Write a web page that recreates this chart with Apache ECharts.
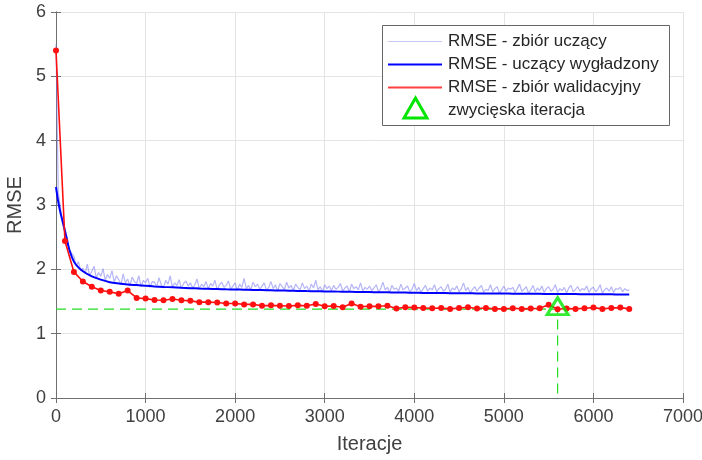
<!DOCTYPE html>
<html>
<head>
<meta charset="utf-8">
<script src="https://cdn.jsdelivr.net/npm/echarts@6/dist/echarts.min.js"></script>
<style>
  html, body { margin: 0; padding: 0; background: #fff; }
  #chart { width: 702px; height: 460px; }
</style>
</head>
<body>
<div id="chart"></div>
<script>
// iteration step of the raw training curve
var trainStep = 25;
var trainRaw = [
  5.50, 3.20, 2.95, 2.70, 2.55, 2.50, 2.30, 2.25, 2.20, 2.05, 2.12, 1.98,
  2.02, 1.93, 2.08, 1.90, 1.97, 2.05, 1.86, 1.95, 1.89, 2.01, 1.83, 1.92, 1.86, 1.98, 1.80, 1.90,
  1.84, 1.76, 1.93, 1.79, 1.85, 1.74, 1.88, 1.81, 1.78, 1.90, 1.73, 1.83, 1.79, 1.86, 1.72, 1.81,
  1.80, 1.73, 1.87, 1.76, 1.71, 1.83, 1.77, 1.90, 1.72, 1.79, 1.75, 1.84, 1.70, 1.78, 1.82, 1.74,
  1.79, 1.71, 1.76, 1.85, 1.69, 1.77, 1.73, 1.81, 1.70, 1.78, 1.74, 1.83, 1.68, 1.76, 1.80, 1.72,
  1.75, 1.82, 1.69, 1.74, 1.79, 1.67, 1.77, 1.72, 1.86, 1.70, 1.75, 1.68, 1.80, 1.73, 1.77, 1.69,
  1.74, 1.79, 1.67, 1.72, 1.81, 1.70, 1.76, 1.66, 1.78, 1.73, 1.69, 1.80, 1.71, 1.75, 1.67, 1.77,
  1.72, 1.68, 1.79, 1.70, 1.74, 1.66, 1.77, 1.71, 1.83, 1.68, 1.73, 1.65, 1.76, 1.70, 1.74, 1.67,
  1.75, 1.69, 1.72, 1.78, 1.66, 1.71, 1.74, 1.65, 1.77, 1.70, 1.73, 1.68, 1.79, 1.66, 1.72, 1.69,
  1.74, 1.67, 1.71, 1.76, 1.65, 1.70, 1.80, 1.68, 1.72, 1.64, 1.75, 1.69, 1.71, 1.66, 1.77, 1.68,
  1.71, 1.74, 1.65, 1.69, 1.78, 1.67, 1.72, 1.64, 1.70, 1.75, 1.66, 1.71, 1.68, 1.76, 1.65, 1.70,
  1.73, 1.66, 1.69, 1.77, 1.64, 1.71, 1.68, 1.74, 1.65, 1.70, 1.79, 1.67, 1.72, 1.63, 1.69, 1.73,
  1.66, 1.71, 1.75, 1.64, 1.69, 1.67, 1.76, 1.65, 1.70, 1.73, 1.63, 1.68, 1.74, 1.66, 1.71, 1.69,
  1.72, 1.64, 1.70, 1.77, 1.66, 1.69, 1.73, 1.63, 1.68, 1.75, 1.65, 1.71, 1.67, 1.74, 1.64, 1.70,
  1.73, 1.66, 1.69, 1.76, 1.64, 1.70, 1.67, 1.72, 1.63, 1.71, 1.75, 1.65, 1.69, 1.73, 1.66, 1.70,
  1.68, 1.74, 1.64, 1.70, 1.72, 1.65, 1.69, 1.76, 1.63, 1.68, 1.71, 1.66, 1.73, 1.64, 1.70, 1.69,
  1.72, 1.65, 1.70, 1.67, 1.68
];

var smoothIter = [0, 25, 50, 75, 100, 150, 200, 250, 300,
  400, 500, 600, 700, 800, 900, 1000, 1100, 1200, 1300, 1400, 1500, 1600, 1700, 1800, 1900,
  2000, 2100, 2200, 2300, 2400, 2500, 2600, 2700, 2800, 2900, 3000, 3100, 3200, 3300, 3400,
  3500, 3600, 3700, 3800, 3900, 4000, 4100, 4200, 4300, 4400, 4500, 4600, 4700, 4800, 4900,
  5000, 5100, 5200, 5300, 5400, 5500, 5600, 5700, 5800, 5900, 6000, 6100, 6200, 6300, 6400];
var smoothRmse = [3.28, 3.05, 2.88, 2.74, 2.60, 2.30, 2.12, 2.03, 1.97,
  1.89, 1.84, 1.80, 1.78, 1.765, 1.755, 1.745, 1.735, 1.727, 1.72, 1.713, 1.707, 1.702, 1.698, 1.694, 1.69,
  1.687, 1.684, 1.68, 1.677, 1.674, 1.671, 1.668, 1.665, 1.662, 1.66, 1.657, 1.655, 1.652, 1.65, 1.648,
  1.646, 1.644, 1.642, 1.64, 1.638, 1.636, 1.634, 1.632, 1.631, 1.63, 1.628, 1.627, 1.626, 1.625, 1.624,
  1.623, 1.622, 1.621, 1.62, 1.619, 1.618, 1.617, 1.616, 1.615, 1.614, 1.613, 1.612, 1.611, 1.61, 1.61];

// validation every 100 iterations
var valStep = 100;
var valRmse = [
  5.40, 2.44, 1.96, 1.81, 1.73, 1.67, 1.65, 1.62, 1.67, 1.555,
  1.545, 1.523, 1.52, 1.54, 1.52, 1.51, 1.49, 1.49, 1.485, 1.47,
  1.47, 1.455, 1.455, 1.435, 1.44, 1.435, 1.43, 1.44, 1.435, 1.46,
  1.425, 1.43, 1.41, 1.47, 1.42, 1.425, 1.425, 1.435, 1.39, 1.41,
  1.405, 1.40, 1.395, 1.40, 1.385, 1.40, 1.41, 1.39, 1.40, 1.385,
  1.385, 1.395, 1.385, 1.39, 1.395, 1.45, 1.38, 1.39, 1.385, 1.395,
  1.405, 1.385, 1.40, 1.405, 1.385
];

var winnerIter = 5600;
var winnerRmse = 1.38;

var legendNames = ['RMSE - zbiór uczący', 'RMSE - uczący wygładzony', 'RMSE - zbiór walidacyjny', 'zwycięska iteracja'];

var font = 'Liberation Sans, Arial, Helvetica, sans-serif';
var rawColor = 'rgba(120,120,240,0.55)';
var blue = '#0000ff';
var red = '#ff1010';
var green = '#00e600';

var chart = echarts.init(document.getElementById('chart'));

var rawData = trainRaw.map(function (v, i) { return [i * trainStep, v]; });
var smoothData = smoothRmse.map(function (v, i) { return [smoothIter[i], v]; });
var valData = valRmse.map(function (v, i) { return [i * valStep, v]; });

var rows = [41.5, 64.5, 87.5, 110.5];

function plain(v) { return String(v); }

var option = {
  animation: false,
  grid: { left: 56, right: 19, top: 12, bottom: 62, outerBoundsMode: 'none' },
  xAxis: [{
    type: 'value', min: 0, max: 7000, interval: 1000,
    name: 'Iteracje', nameLocation: 'middle', nameGap: 36,
    nameTextStyle: { color: '#404040', fontSize: 20, fontFamily: font },
    axisLine: { lineStyle: { color: '#707070' } },
    axisTick: { inside: true, length: 5, lineStyle: { color: '#707070' } },
    axisLabel: { color: '#404040', fontSize: 18, fontFamily: font, margin: 10, formatter: plain },
    splitLine: { lineStyle: { color: '#e4e4e4' } }
  }, {
    type: 'value', position: 'top', min: 0, max: 7000, interval: 1000,
    axisLine: { lineStyle: { color: '#707070' } },
    axisTick: { inside: true, length: 5, lineStyle: { color: '#707070' } },
    axisLabel: { show: false }, splitLine: { show: false }
  }],
  yAxis: [{
    type: 'value', min: 0, max: 6, interval: 1,
    name: 'RMSE', nameLocation: 'middle', nameGap: 25,
    nameTextStyle: { color: '#404040', fontSize: 20, fontFamily: font },
    axisLine: { show: true, lineStyle: { color: '#707070' } },
    axisTick: { show: true, inside: true, length: 5, lineStyle: { color: '#707070' } },
    axisLabel: { color: '#404040', fontSize: 18, fontFamily: font, margin: 10, formatter: plain },
    splitLine: { lineStyle: { color: '#e4e4e4' } }
  }, {
    type: 'value', position: 'right', min: 0, max: 6, interval: 1,
    axisLine: { show: true, lineStyle: { color: '#707070' } },
    axisTick: { show: true, inside: true, length: 5, lineStyle: { color: '#707070' } },
    axisLabel: { show: false }, splitLine: { show: false }
  }],
  series: [{
    name: legendNames[0], type: 'line', data: rawData, showSymbol: false,
    lineStyle: { color: rawColor, width: 1.2 }, z: 2
  }, {
    name: legendNames[1], type: 'line', data: smoothData, showSymbol: false, smooth: 0.3,
    lineStyle: { color: blue, width: 2 }, z: 3
  }, {
    name: legendNames[2], type: 'line', data: valData, symbol: 'circle', symbolSize: 6,
    itemStyle: { color: red }, lineStyle: { color: red, width: 1.6 }, z: 4
  }, {
    name: 'guide', type: 'line',
    data: [[0, winnerRmse], [winnerIter, winnerRmse], [winnerIter, 0]],
    showSymbol: false, lineStyle: { color: '#22dd22', width: 1.2, type: [10, 6] }, z: 3
  }, {
    name: legendNames[3], type: 'scatter', data: [[winnerIter, winnerRmse]],
    symbol: 'triangle', symbolSize: [21, 17], symbolOffset: [0, -3],
    itemStyle: { color: 'rgba(0,0,0,0)', borderColor: green, borderWidth: 3 }, z: 6
  }],
  graphic: [
    { type: 'rect', z: 100, shape: { x: 382.5, y: 25.5, width: 287, height: 100 },
      style: { fill: '#fff', stroke: '#666', lineWidth: 1 } },
    { type: 'line', z: 101, shape: { x1: 388, y1: rows[0], x2: 442, y2: rows[0] },
      style: { stroke: '#c8c8fa', lineWidth: 1.2 } },
    { type: 'line', z: 101, shape: { x1: 388, y1: rows[1], x2: 442, y2: rows[1] },
      style: { stroke: blue, lineWidth: 2.2 } },
    { type: 'line', z: 101, shape: { x1: 388, y1: rows[2], x2: 442, y2: rows[2] },
      style: { stroke: '#ff4040', lineWidth: 2 } },
    { type: 'polygon', z: 101, shape: { points: [[404, 118], [427, 118], [415.5, 98]] },
      style: { fill: 'none', stroke: green, lineWidth: 3 } },
    { type: 'text', z: 101, x: 448, y: rows[0], style: { text: legendNames[0], fill: '#262626', font: '17px ' + font, verticalAlign: 'middle' } },
    { type: 'text', z: 101, x: 448, y: rows[1], style: { text: legendNames[1], fill: '#262626', font: '17px ' + font, verticalAlign: 'middle' } },
    { type: 'text', z: 101, x: 448, y: rows[2], style: { text: legendNames[2], fill: '#262626', font: '17px ' + font, verticalAlign: 'middle' } },
    { type: 'text', z: 101, x: 448, y: rows[3], style: { text: legendNames[3], fill: '#262626', font: '17px ' + font, verticalAlign: 'middle' } }
  ]
};

chart.setOption(option);
</script>
</body>
</html>
